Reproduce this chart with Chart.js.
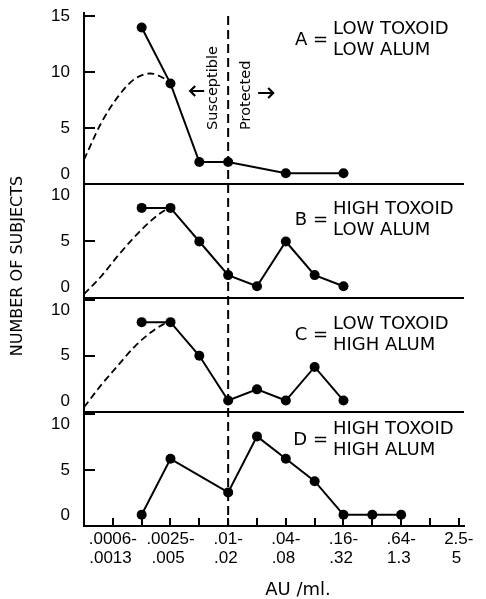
<!DOCTYPE html>
<html>
<head>
<meta charset="utf-8">
<script src="https://cdn.jsdelivr.net/npm/chart.js@4.4.1/dist/chart.umd.min.js"></script>
<style>
  html, body { margin: 0; padding: 0; background: #fff; }
</style>
</head>
<body>
<canvas id="myChart" width="486" height="599"></canvas>
<script>
// x = dilution bin: 1 = .0006-.0013, 2 = .0013-.0025, 3 = .0025-.005 ... 13 = 2.5-5 AU/ml
const binTicks = [1, 2, 3, 4, 5, 6, 7, 8, 9, 10, 11, 12, 13];
const rangeFrom = ['.0006-', '', '.0025-', '', '.01-', '', '.04-', '', '.16-', '', '.64-', '', '2.5-'];
const rangeTo = ['.0013', '', '.005', '', '.02', '', '.08', '', '.32', '', '1.3', '', '5'];
const cutoffBin = 5;

// number of subjects per bin
const binsA = [2, 3, 4, 5, 7, 9];
const countsA = [14, 9, 2, 2, 1, 1];
const binsB = [2, 3, 4, 5, 6, 7, 8, 9];
const countsB = [8, 8, 5, 2, 1, 5, 2, 1];
const binsC = [2, 3, 4, 5, 6, 7, 8, 9];
const countsC = [8, 8, 5, 1, 2, 1, 4, 1];
const binsD = [2, 3, 5, 6, 7, 8, 9, 10, 11];
const countsD = [1, 6, 3, 8, 6, 4, 1, 1, 1];

// dashed curves
const curveBins = [0, 0.6, 1.2, 1.75, 2.3, 2.75, 3];
const curveA = [2.2, 5.5, 7.9, 9.4, 9.9, 9.5, 9];
const curveB = [0.3, 1.9, 3.8, 5.4, 6.8, 7.7, 8];
const curveC = [0.4, 2.4, 4.2, 5.8, 7.05, 7.8, 8];

const yTicksA = [0, 5, 10, 15];
const yTicksLow = [0, 5, 10];

const panelKeys = ['A =', 'B =', 'C =', 'D ='];
const toxoidDose = ['LOW TOXOID', 'HIGH TOXOID', 'LOW TOXOID', 'HIGH TOXOID'];
const alumDose = ['LOW ALUM', 'LOW ALUM', 'HIGH ALUM', 'HIGH ALUM'];

const ink = '#000';
const numFont = { family: 'Liberation Sans', size: 17, lineHeight: 1.2 };

function panelAxis(max, ticks) {
  return {
    type: 'linear',
    position: 'left',
    stack: 'panels',
    stackWeight: max,
    min: 0,
    max: max,
    afterBuildTicks: s => { s.ticks = ticks.map(v => ({ value: v })); },
    afterFit: s => { s.width = 84; s.paddingTop = 0; s.paddingBottom = 0; },
    border: { display: true, color: ink, width: 2 },
    grid: {
      drawOnChartArea: true,
      drawTicks: false,
      lineWidth: 2,
      color: c => (c.tick && c.tick.value === 0 ? ink : 'transparent')
    },
    ticks: {
      autoSkip: false,
      color: ink,
      font: numFont,
      padding: 14,
      callback: v => {
        if (v === 0) return ['0', ''];
        if (v === 10 && max < 12) return ['', '10'];
        return String(v);
      }
    }
  };
}

function series(bins, counts, axis) {
  return {
    data: bins.map((b, i) => ({ x: b, y: counts[i] })),
    yAxisID: axis,
    borderColor: ink,
    backgroundColor: ink,
    borderWidth: 2,
    pointRadius: 5,
    pointBackgroundColor: ink,
    pointBorderWidth: 0,
    tension: 0
  };
}

function curve(values, axis) {
  return {
    data: curveBins.map((b, i) => ({ x: b, y: values[i] })),
    yAxisID: axis,
    borderColor: ink,
    borderWidth: 1.8,
    borderDash: [7, 4],
    pointRadius: 0,
    cubicInterpolationMode: 'monotone'
  };
}

const notes = {
  id: 'notes',
  beforeDatasetsDraw(chart) {
    const { ctx, chartArea, scales } = chart;
    const x = scales.x.getPixelForValue(cutoffBin);
    ctx.save();
    ctx.strokeStyle = ink;
    ctx.lineWidth = 2;
    ctx.beginPath();
    // inward tick marks on the panel axes
    ['yA', 'yB', 'yC', 'yD'].forEach(id => {
      const s = scales[id];
      s.ticks.forEach(t => {
        if (t.value <= 0 || t.value > s.max - 0.2) return;
        const y = Math.round(s.getPixelForValue(t.value));
        ctx.moveTo(chartArea.left, y);
        ctx.lineTo(chartArea.left + 11, y);
      });
    });
    // inward tick marks on the bin axis
    scales.x.ticks.forEach(t => {
      const px = Math.round(scales.x.getPixelForValue(t.value));
      ctx.moveTo(px, chartArea.bottom);
      ctx.lineTo(px, chartArea.bottom - 8);
    });
    ctx.stroke();
    ctx.setLineDash([9, 5]);
    ctx.beginPath();
    ctx.moveTo(x, chartArea.top + 3);
    ctx.lineTo(x, chartArea.bottom);
    ctx.stroke();
    ctx.restore();
  },
  afterDraw(chart) {
    const { ctx, scales } = chart;
    const cx = scales.x.getPixelForValue(cutoffBin);
    ctx.save();
    ctx.fillStyle = ink;
    ctx.strokeStyle = ink;

    // panel captions
    const axes = ['yA', 'yB', 'yC', 'yD'];
    const offs = [16, 25, 27, 18];
    ctx.font = '18px "DejaVu Sans"';
    ctx.textBaseline = 'middle';
    axes.forEach((id, i) => {
      const y = scales[id].top + offs[i];
      ctx.textAlign = 'left';
      ctx.fillText(toxoidDose[i], 333, y);
      ctx.fillText(alumDose[i], 333, y + 21);
      ctx.textAlign = 'right';
      ctx.fillText(panelKeys[i], 328, y + 11);
    });

    // susceptible / protected
    ctx.font = '14.5px "DejaVu Sans"';
    ctx.textAlign = 'left';
    [['Susceptible', cx - 15], ['Protected', cx + 18]].forEach(([t, x]) => {
      ctx.save();
      ctx.translate(x, 130);
      ctx.rotate(-Math.PI / 2);
      ctx.fillText(t, 0, 0);
      ctx.restore();
    });
    ctx.lineWidth = 2.2;
    ctx.beginPath();
    ctx.moveTo(cx - 24, 91); ctx.lineTo(cx - 38, 91);
    ctx.moveTo(cx - 33, 86); ctx.lineTo(cx - 38, 91); ctx.lineTo(cx - 33, 96);
    ctx.moveTo(cx + 30, 93); ctx.lineTo(cx + 45, 93);
    ctx.moveTo(cx + 40, 88); ctx.lineTo(cx + 45, 93); ctx.lineTo(cx + 40, 98);
    ctx.stroke();

    // axis titles
    ctx.font = '16px "DejaVu Sans"';
    ctx.textAlign = 'center';
    ctx.save();
    ctx.translate(18, 266);
    ctx.rotate(-Math.PI / 2);
    ctx.fillText('NUMBER OF SUBJECTS', 0, 0);
    ctx.restore();
    ctx.font = '18px "DejaVu Sans"';
    ctx.fillText('AU /ml.', 298, 590);
    ctx.restore();
  }
};

const ctx = document.getElementById('myChart').getContext('2d');
const chart = new Chart(ctx, {
  type: 'line',
  data: {
    datasets: [
      series(binsA, countsA, 'yA'),
      curve(curveA, 'yA'),
      series(binsB, countsB, 'yB'),
      curve(curveB, 'yB'),
      series(binsC, countsC, 'yC'),
      curve(curveC, 'yC'),
      series(binsD, countsD, 'yD')
    ]
  },
  options: {
    responsive: false,
    animation: false,
    devicePixelRatio: 1,
    layout: { padding: { top: 13, right: 22, bottom: 0, left: 0 } },
    plugins: { legend: { display: false }, tooltip: { enabled: false } },
    scales: {
      x: {
        type: 'linear',
        position: 'bottom',
        min: 0,
        max: 13.18,
        afterBuildTicks: s => { s.ticks = binTicks.map(v => ({ value: v })); },
        afterFit: s => { s.height = 73; },
        border: { display: true, color: ink, width: 2 },
        grid: { drawOnChartArea: false, drawTicks: false },
        ticks: {
          autoSkip: false,
          maxRotation: 0,
          color: ink,
          padding: 4,
          font: { family: 'Liberation Sans', size: 17, lineHeight: 1.12 },
          callback: (v, i) => (rangeFrom[i] ? [rangeFrom[i], rangeTo[i] + ' '] : '')
        }
      },
      yD: panelAxis(10.2, yTicksLow),
      yC: panelAxis(10.2, yTicksLow),
      yB: panelAxis(10.1, yTicksLow),
      yA: panelAxis(15.3, yTicksA)
    }
  },
  plugins: [notes]
});
</script>
</body>
</html>
